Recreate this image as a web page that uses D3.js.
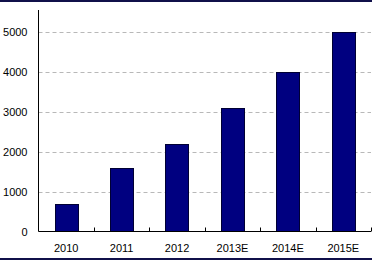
<!DOCTYPE html>
<html>
<head>
<meta charset="utf-8">
<script src="https://cdn.jsdelivr.net/npm/d3@7"></script>
<style>
  body { margin: 0; background: #fff; }
  svg text { font-family: "Liberation Sans", Arial, sans-serif; font-size: 11px; fill: #000; }
</style>
</head>
<body>
<svg id="chart" width="372" height="261"></svg>
<script>
const years = ['2010', '2011', '2012', '2013E', '2014E', '2015E'];
const values = [700, 1600, 2200, 3100, 4000, 5000];
const yTicks = [0, 1000, 2000, 3000, 4000, 5000];

const W = 372, H = 261;
const plot = {left: 38.5, right: 371, top: 10, bottom: 231.5};

const svg = d3.select('#chart');

// frame lines top & bottom
svg.append('rect').attr('x', 0).attr('y', 0).attr('width', W).attr('height', 2).style('fill', '#10104a');
svg.append('rect').attr('x', 0).attr('y', 258).attr('width', W).attr('height', 2).style('fill', '#10104a');

const x = d3.scaleBand().domain(years).range([plot.left, plot.right]).paddingInner(0.58).paddingOuter(0.29);
const y = d3.scaleLinear().domain([0, 5000]).range([plot.bottom, 31.5]);

// dashed gridlines
svg.append('g')
    .selectAll('line')
    .data(yTicks.filter(d => d > 0))
    .join('line')
    .attr('x1', plot.left)
    .attr('x2', plot.right)
    .attr('y1', d => Math.round(y(d)) + 0.5)
    .attr('y2', d => Math.round(y(d)) + 0.5)
    .style('stroke', '#b8b8b8')
    .style('stroke-dasharray', '4,3');

// bars
svg.append('g')
    .selectAll('rect')
    .data(years)
    .join('rect')
    .attr('x', (d) => Math.round(x(d)) + 0.5)
    .attr('y', (d, i) => Math.round(y(values[i])) + 0.5)
    .attr('width', Math.round(x.bandwidth()))
    .attr('height', (d, i) => plot.bottom - 0.5 - Math.round(y(values[i])))
    .style('fill', '#000080')
    .style('stroke', '#000033');

// y axis
const yAxis = d3.axisLeft(y).tickValues(yTicks).tickFormat(d3.format('d')).tickSize(0).tickPadding(11);
const gy = svg.append('g').attr('transform', `translate(${plot.left},0)`).call(yAxis);
gy.select('.domain').remove();
gy.selectAll('text').style('font-family', '"Liberation Sans", Arial, sans-serif').style('font-size', '11px');
svg.append('line')
    .attr('x1', plot.left).attr('x2', plot.left)
    .attr('y1', plot.top).attr('y2', plot.bottom)
    .style('stroke', '#000');

// x axis with ticks between categories
const bandStep = x.step();
const gx = svg.append('g');
gx.append('line')
    .attr('x1', plot.left).attr('x2', plot.right)
    .attr('y1', plot.bottom).attr('y2', plot.bottom)
    .style('stroke', '#000');
gx.selectAll('line.tick')
    .data(years)
    .join('line')
    .attr('class', 'tick')
    .attr('x1', (d) => Math.round(x(d) + x.bandwidth() / 2 + bandStep / 2) + 0.5)
    .attr('x2', (d) => Math.round(x(d) + x.bandwidth() / 2 + bandStep / 2) + 0.5)
    .attr('y1', plot.bottom)
    .attr('y2', plot.bottom - 4)
    .style('stroke', '#000');
gx.selectAll('text')
    .data(years)
    .join('text')
    .attr('x', (d) => x(d) + x.bandwidth() / 2)
    .attr('y', 252)
    .attr('text-anchor', 'middle')
    .text(d => d);
</script>
</body>
</html>
